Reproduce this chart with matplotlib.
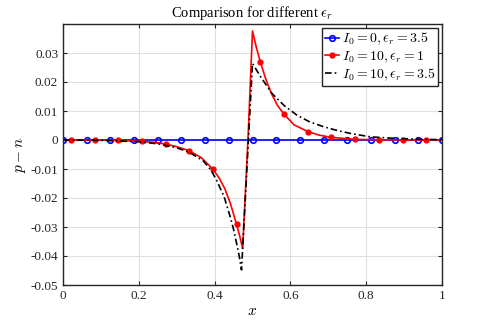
import numpy as np
import matplotlib
matplotlib.use("Agg")
import matplotlib.pyplot as plt

plt.rcParams["font.family"] = "serif"
plt.rcParams["font.serif"] = ["Liberation Serif", "DejaVu Serif"]
plt.rcParams["mathtext.fontset"] = "cm"

# --- data ---
x_blue = [0, 0.0625, 0.125, 0.1875, 0.25, 0.3125, 0.375, 0.4375, 0.5,
          0.5625, 0.625, 0.6875, 0.75, 0.8125, 0.875, 0.9375, 1.0]
y_blue = [0.0] * len(x_blue)

x_red = [0.0, 0.021, 0.084, 0.146, 0.208, 0.24, 0.271, 0.30, 0.333, 0.365,
         0.396, 0.412, 0.427, 0.442, 0.458, 0.466, 0.474, 0.488, 0.500,
         0.510, 0.521, 0.535, 0.550, 0.565, 0.583, 0.610, 0.646, 0.675,
         0.708, 0.771, 0.833, 0.896, 0.958, 1.0]
y_red = [0.0, 0.0, 0.0, -0.0001, -0.0005, -0.0008, -0.0014, -0.0023, -0.0037,
         -0.0061, -0.0101, -0.0131, -0.0168, -0.0220, -0.0291, -0.0330,
         -0.0374, 0.0, 0.0376, 0.0320, 0.0268, 0.0210, 0.0160, 0.0121,
         0.0089, 0.0052, 0.0029, 0.0017, 0.0009, 0.0002, 0.0001, 0.0, 0.0, 0.0]
red_marks = [1, 2, 3, 4, 6, 8, 10, 14, 20, 24, 26, 28, 29, 30, 31, 32]

x_black = [0.0, 0.1, 0.2, 0.25, 0.3, 0.333, 0.37, 0.39, 0.405, 0.425, 0.441,
           0.45, 0.458, 0.465, 0.471, 0.500, 0.520, 0.551, 0.585, 0.617,
           0.650, 0.687, 0.720, 0.757, 0.810, 0.870, 0.930, 1.0]
y_black = [0.0, -0.0001, -0.0006, -0.0013, -0.0027, -0.0042, -0.0072, -0.0103,
           -0.0138, -0.0195, -0.0264, -0.0308, -0.0356, -0.0400, -0.0448,
           0.0264, 0.0221, 0.0161, 0.0117, 0.0086, 0.0063, 0.0046, 0.0034,
           0.0023, 0.0011, 0.0006, 0.0003, 0.0001]

xticks = [0, 0.2, 0.4, 0.6, 0.8, 1]
xticklabels = ["0", "0.2", "0.4", "0.6", "0.8", "1"]
yticks = [-0.05, -0.04, -0.03, -0.02, -0.01, 0, 0.01, 0.02, 0.03]
yticklabels = ["-0.05", "-0.04", "-0.03", "-0.02", "-0.01", "0", "0.01", "0.02", "0.03"]

# --- plot ---
fig = plt.figure(figsize=(4.88, 3.26), dpi=100)
ax = fig.add_axes([63 / 488, 41 / 326, 379 / 488, 261 / 326])

ax.plot(x_blue, y_blue, color="blue", lw=1.2, marker="o", ms=4,
        mfc="none", mew=1.2, label=r"$I_0=0, \epsilon_r=3.5$")
ax.plot(x_red, y_red, color="red", lw=1.2, marker=".", ms=7,
        markevery=red_marks, label=r"$I_0=10, \epsilon_r=1$")
ax.plot(x_black, y_black, color="black", lw=1.2, ls=(0, (4, 1.8, 1, 1.8)),
        label=r"$I_0=10, \epsilon_r=3.5$")

ax.set_xlim(0, 1)
ax.set_ylim(-0.05, 0.04)
ax.set_xticks(xticks)
ax.set_xticklabels(xticklabels)
ax.set_yticks(yticks)
ax.set_yticklabels(yticklabels)
ax.tick_params(direction="in", top=True, right=True, length=3,
               color="#262626", labelsize=9.5, labelcolor="#262626")
ax.grid(True, color="#e0e0e0", lw=0.8)
ax.set_axisbelow(True)
for s in ax.spines.values():
    s.set_color("#262626")
    s.set_linewidth(1.0)

ax.set_title(r"Comparison for different $\epsilon_r$", fontsize=10.5, pad=5)
ax.set_xlabel(r"$x$", fontsize=11, labelpad=2)
ax.set_ylabel(r"$p-n$", fontsize=11, labelpad=2)

leg = ax.legend(loc="upper right", fontsize=10, handlelength=1.0,
                handletextpad=0.2, borderpad=0.2, labelspacing=0.15,
                borderaxespad=0.3, fancybox=False, framealpha=1)
leg.get_frame().set_edgecolor("#262626")
leg.get_frame().set_linewidth(1.0)

fig.savefig("out.png", dpi=100)
